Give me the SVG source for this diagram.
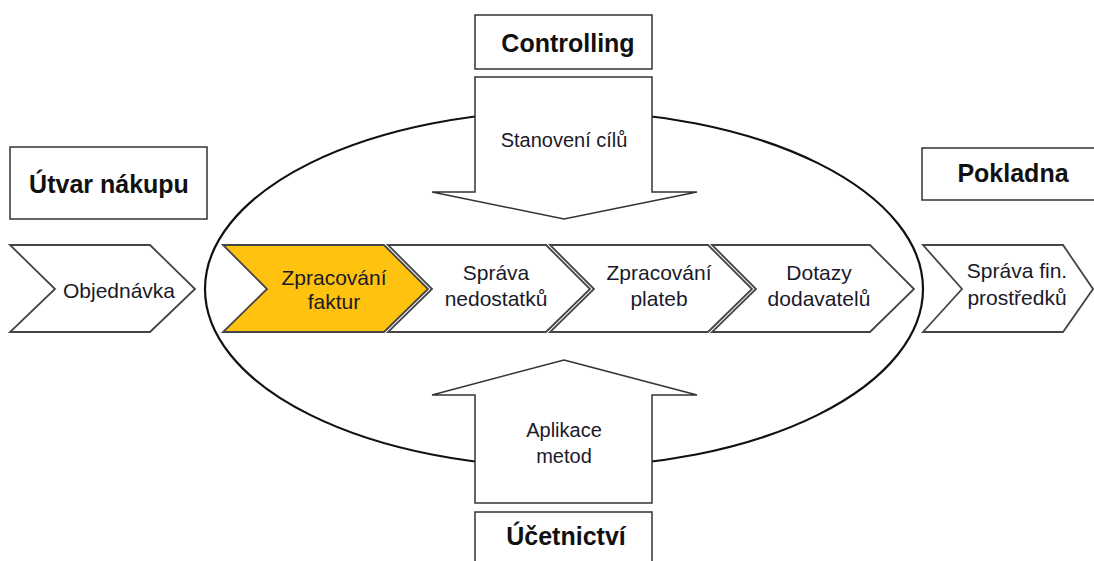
<svg xmlns="http://www.w3.org/2000/svg" width="1094" height="561" viewBox="0 0 1094 561">
<style>
.box{fill:#fff;stroke:#333;stroke-width:1.5}
.chev{fill:#fff;stroke:#454545;stroke-width:1.8;stroke-linejoin:miter}
.hl{fill:#FFC20E}
.arr{fill:#fff;stroke:#333;stroke-width:1.5}
.title{font-family:"Liberation Sans",Arial,sans-serif;font-weight:bold;font-size:25px;fill:#111;text-anchor:middle}
.lbl{font-family:"Liberation Sans",Arial,sans-serif;font-size:21px;fill:#1a1a2a;text-anchor:middle}
.lbl2{font-family:"Liberation Sans",Arial,sans-serif;font-size:20px;fill:#1a1a2a;text-anchor:middle}
</style>
<rect width="1094" height="561" fill="#fff"/>
<g id="cycle">
<ellipse cx="564" cy="289" rx="359" ry="178" fill="none" stroke="#111" stroke-width="2.2"/>
</g>
<g id="connectors">
<g id="arrow-down">
<polygon class="arr" points="475,77 652,77 652,192 697,192 564,219 432,192 475,192"/>
<text class="lbl2" x="564" y="147">Stanovení cílů</text>
</g>
<g id="arrow-up">
<polygon class="arr" points="564,360 697,395 652,395 652,503 475,503 475,395 432,395"/>
<text class="lbl2" x="564" y="437">Aplikace</text>
<text class="lbl2" x="564" y="463">metod</text>
</g>
</g>
<g id="controlling">
<rect class="box" x="475" y="15" width="177" height="54"/>
<text class="title" x="568" y="52">Controlling</text>
</g>
<g id="ucetnictvi">
<rect class="box" x="475" y="512" width="177" height="60"/>
<text class="title" x="566" y="545">Účetnictví</text>
</g>
<g id="utvar-nakupu">
<rect class="box" x="10" y="147" width="197" height="72"/>
<text class="title" x="109" y="193">Útvar nákupu</text>
</g>
<g id="pokladna">
<rect class="box" x="922" y="148" width="180" height="52"/>
<text class="title" x="1013" y="182">Pokladna</text>
</g>
<g id="objednavka">
<polygon class="chev" points="10,245 150,245 195,289 150,332 10,332 55,289"/>
<text class="lbl" x="119" y="298">Objednávka</text>
</g>
<g id="zpracovani-faktur">
<polygon class="chev hl" points="223,245 384,245 428,289 384,332 223,332 267,289"/>
<text class="lbl" x="334" y="285">Zpracování</text>
<text class="lbl" x="334" y="309">faktur</text>
</g>
<g id="sprava-nedostatku">
<polygon class="chev" points="388,245 546,245 590,289 546,332 388,332 432,289"/>
<text class="lbl" x="496" y="280">Správa</text>
<text class="lbl" x="496" y="306">nedostatků</text>
</g>
<g id="zpracovani-plateb">
<polygon class="chev" points="550,245 708,245 752,289 708,332 550,332 594,289"/>
<text class="lbl" x="659" y="280">Zpracování</text>
<text class="lbl" x="659" y="306">plateb</text>
</g>
<g id="dotazy-dodavatelu">
<polygon class="chev" points="712,245 870,245 914,289 870,332 712,332 756,289"/>
<text class="lbl" x="819" y="280">Dotazy</text>
<text class="lbl" x="819" y="306">dodavatelů</text>
</g>
<g id="sprava-fin-prostredku">
<polygon class="chev" points="923,245 1063,245 1093,289 1063,332 923,332 962,289"/>
<text class="lbl" x="1017" y="278">Správa fin.</text>
<text class="lbl" x="1017" y="305">prostředků</text>
</g>
</svg>
